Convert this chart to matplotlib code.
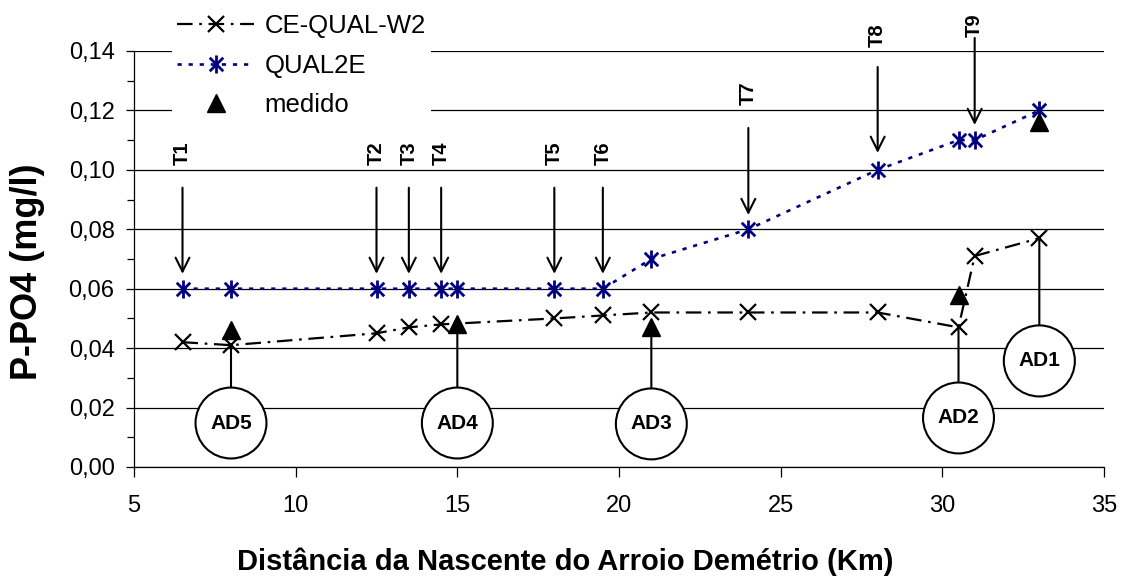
import numpy as np
import matplotlib
matplotlib.use("Agg")
import matplotlib.pyplot as plt
from matplotlib.path import Path
from matplotlib.ticker import MultipleLocator, FuncFormatter

plt.rcParams['font.family'] = ['Liberation Sans', 'DejaVu Sans']

# CE-QUAL-W2 model
x_ce = [6.5, 8, 12.5, 13.5, 14.5, 18, 19.5, 21, 24, 28, 30.5, 31, 33]
y_ce = [0.042, 0.041, 0.045, 0.047, 0.048, 0.050, 0.051, 0.052, 0.052, 0.052, 0.047, 0.071, 0.077]

# QUAL2E model
x_q2 = [6.5, 8, 12.5, 13.5, 14.5, 15, 18, 19.5, 21, 24, 28, 30.5, 31, 33]
y_q2 = [0.06, 0.06, 0.06, 0.06, 0.06, 0.06, 0.06, 0.06, 0.07, 0.08, 0.10, 0.11, 0.11, 0.12]

# measured
x_med = [8, 15, 21, 30.5, 33]
y_med = [0.046, 0.048, 0.047, 0.058, 0.116]

# tributaries T1..T9 (station km)
t_names = ['T1', 'T2', 'T3', 'T4', 'T5', 'T6', 'T7', 'T8', 'T9']
t_x = [6.5, 12.5, 13.5, 14.5, 18, 19.5, 24, 28, 31]

# sampling points AD1..AD5 (station km, value the pointer reaches)
ad_names = ['AD1', 'AD2', 'AD3', 'AD4', 'AD5']
ad_x = [33, 30.5, 21, 15, 8]
ad_val = [0.077, 0.047, 0.047, 0.048, 0.041]

# layout for the annotations (label y, arrow tail, arrow head / circle centre)
t_text_y = [0.1057, 0.1057, 0.1057, 0.1057, 0.1057, 0.1057, 0.1259, 0.1454, 0.1488]
t_tail_y = [0.094, 0.094, 0.094, 0.094, 0.094, 0.094, 0.1141, 0.1346, 0.1444]
t_head_y = [0.065, 0.065, 0.065, 0.065, 0.065, 0.065, 0.0848, 0.1057, 0.1151]
ad_circ_y = [0.0357, 0.0165, 0.0145, 0.0148, 0.0148]

W, H = 1128, 579
fig = plt.figure(figsize=(W / 100, H / 100), dpi=100)
ax = fig.add_axes([134 / W, 1 - 467 / H, (1104 - 134) / W, (467 - 51) / H])

star = Path([(0, -1), (0, 1), (-0.75, -0.75), (0.75, 0.75), (-0.75, 0.75), (0.75, -0.75)],
            [Path.MOVETO, Path.LINETO, Path.MOVETO, Path.LINETO, Path.MOVETO, Path.LINETO])

ax.plot(x_ce, y_ce, color='black', lw=1.6, dashes=(7, 3, 1.2, 3), marker='x',
        ms=11, mew=1.6, label='CE-QUAL-W2', zorder=3)
ax.plot(x_q2, y_q2, color='#000080', lw=1.9, dashes=(1.6, 2.6), marker=star,
        ms=13, mew=2.0, label='QUAL2E', zorder=3)
ax.plot(x_med, y_med, ls='none', marker='^', color='black', ms=12.5, label='medido', zorder=4)

for name, x, ty, tt, th in zip(t_names, t_x, t_text_y, t_tail_y, t_head_y):
    ax.annotate('', xy=(x, th), xytext=(x, tt), annotation_clip=False,
                arrowprops=dict(arrowstyle='->,head_length=0.5,head_width=0.25',
                                lw=1.5, color='black', shrinkA=0, shrinkB=0,
                                mutation_scale=20))
    ax.text(x, ty, name, rotation=90, ha='center', va='center', fontsize=14.5,
            fontweight='bold', clip_on=False)

for name, x, v, cy in zip(ad_names, ad_x, ad_val, ad_circ_y):
    ax.annotate(name, xy=(x, v), xytext=(x, cy), ha='center', va='center',
                fontsize=15, fontweight='bold', zorder=5,
                bbox=dict(boxstyle='circle,pad=0.7', fc='white', ec='black', lw=1.5),
                arrowprops=dict(arrowstyle='-', lw=1.5, color='black',
                                shrinkA=0, shrinkB=0))

ax.set_xlim(5, 35)
ax.set_ylim(0, 0.14)
ax.xaxis.set_major_locator(MultipleLocator(5))
ax.yaxis.set_major_locator(MultipleLocator(0.02))
ax.yaxis.set_minor_locator(MultipleLocator(0.01))
ax.yaxis.set_major_formatter(FuncFormatter(lambda v, p: f'{v:.2f}'.replace('.', ',')))
ax.grid(axis='y', which='major', color='black', lw=0.9)
ax.set_axisbelow(True)
for s in ['top', 'right']:
    ax.spines[s].set_visible(False)
ax.spines['left'].set_linewidth(0.9)
ax.spines['bottom'].set_linewidth(0.9)
ax.tick_params(axis='y', which='major', direction='out', length=6, width=0.9, labelsize=17, pad=8)
ax.tick_params(axis='y', which='minor', direction='out', length=5, width=0.9)
ax.tick_params(axis='x', direction='out', length=7, width=0.9, labelsize=17, pad=13)

leg = ax.legend(loc='upper left', bbox_to_anchor=(172 / W, 1 - 9 / H),
                bbox_transform=fig.transFigure, fontsize=18.5, frameon=True,
                fancybox=False, framealpha=1, edgecolor='none', facecolor='white',
                handlelength=3.0, handletextpad=0.4, labelspacing=0.6,
                borderpad=0.2, borderaxespad=0)
leg.set_zorder(6)

fig.text(565 / W, 1 - 570 / H, 'Distância da Nascente do Arroio Demétrio (Km)',
         ha='center', va='baseline', fontsize=21, fontweight='bold')
fig.text(28 / W, 1 - 272 / H, 'P-PO4 (mg/l)', rotation=90, ha='center', va='center',
         fontsize=26, fontweight='bold')

fig.savefig('out.png', dpi=100)
